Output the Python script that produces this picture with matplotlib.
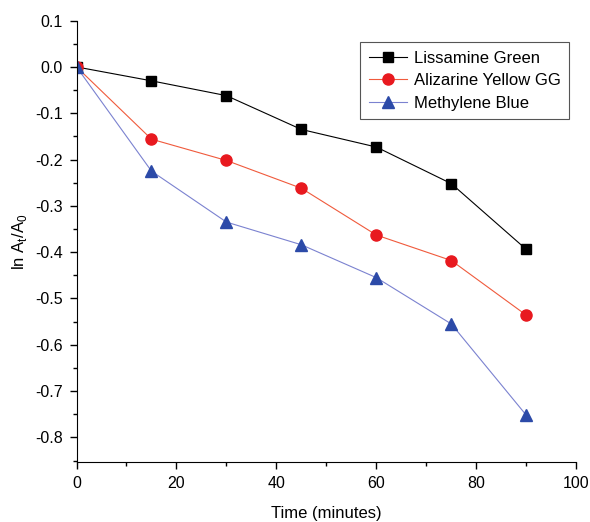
import numpy as np
import matplotlib.pyplot as plt
from matplotlib.ticker import MultipleLocator

plt.rcParams['font.family'] = ['Liberation Sans', 'DejaVu Sans']

# data
time = [0, 15, 30, 45, 60, 75, 90]
lissamine = [0.0, -0.030, -0.062, -0.135, -0.173, -0.252, -0.394]
alizarine = [0.0, -0.156, -0.202, -0.262, -0.363, -0.418, -0.536]
methylene = [0.0, -0.225, -0.335, -0.384, -0.455, -0.555, -0.752]

fig = plt.figure(figsize=(5.9, 5.22), dpi=100)
ax = fig.add_axes([0.1297, 0.115, 0.847, 0.8455])

ax.plot(time, lissamine, color='black', linewidth=0.8, marker='s', markersize=7,
        markerfacecolor='black', markeredgecolor='black', label='Lissamine Green')
ax.plot(time, alizarine, color='#f05a3c', linewidth=0.8, marker='o', markersize=8,
        markerfacecolor='#e8191f', markeredgecolor='#e8191f', label='Alizarine Yellow GG')
ax.plot(time, methylene, color='#7b82d0', linewidth=0.8, marker='^', markersize=8,
        markerfacecolor='#2c4aa8', markeredgecolor='#2c4aa8', label='Methylene Blue')

ax.set_xlim(0, 100)
ax.set_ylim(-0.853, 0.1)
ax.xaxis.set_major_locator(MultipleLocator(20))
ax.xaxis.set_minor_locator(MultipleLocator(10))
ax.yaxis.set_major_locator(MultipleLocator(0.1))
ax.yaxis.set_minor_locator(MultipleLocator(0.05))
ax.yaxis.set_major_formatter(plt.FuncFormatter(lambda v, p: f'{v:.1f}'.replace('-0.0', '0.0')))

ax.spines['top'].set_visible(False)
ax.spines['right'].set_visible(False)
ax.tick_params(which='major', direction='out', length=5, width=1, labelsize=11.5, pad=5)
ax.tick_params(which='minor', direction='out', length=3, width=1)

ax.set_xlabel('Time (minutes)', fontsize=12, labelpad=11)
ax.set_ylabel(r'ln A$_\mathregular{t}$/A$_\mathregular{0}$', fontsize=12)

leg = ax.legend(loc='upper right', bbox_to_anchor=(0.985, 0.951), borderaxespad=0,
                fontsize=12, fancybox=False, framealpha=1, edgecolor='#555555',
                handlelength=2.3, handletextpad=0.4, borderpad=0.5, labelspacing=0.45)
leg.get_frame().set_linewidth(0.8)

plt.savefig('out.png', dpi=100)
